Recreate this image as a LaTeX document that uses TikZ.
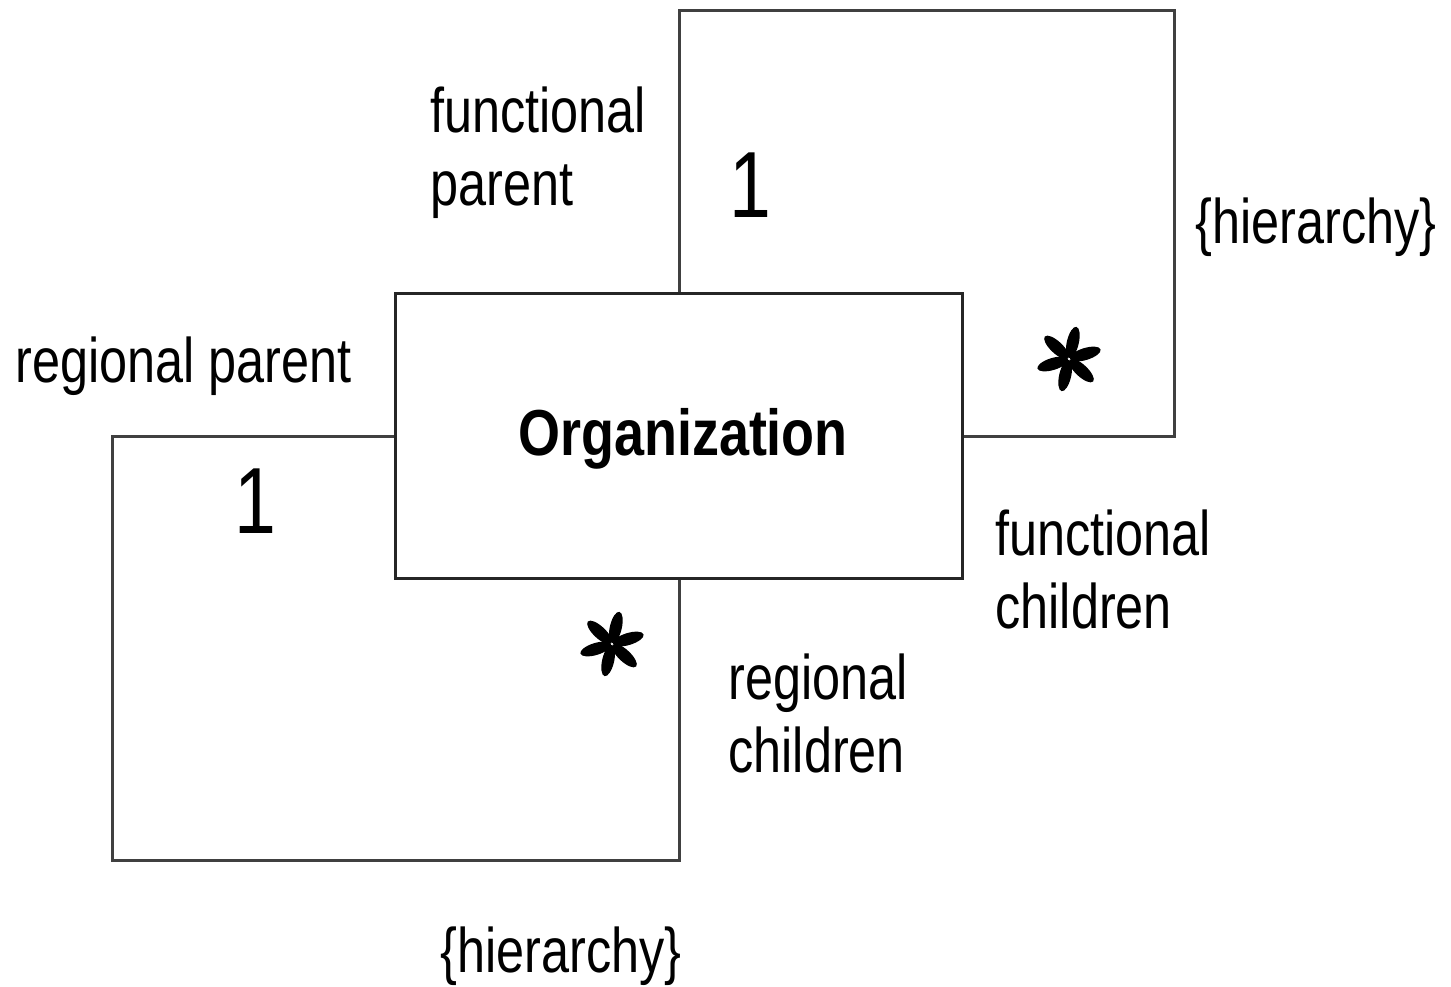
\documentclass[tikz,border=0pt]{standalone}
\usepackage{fontspec}
\setmainfont{Liberation Sans}[FakeStretch=0.8]
\newfontfamily\orgfont{Liberation Sans}[FakeStretch=0.83]
\begin{document}
\begin{tikzpicture}[x=0.5pt,y=0.5pt,
  label text/.style={inner sep=0pt,align=left,font=\fontsize{31.5}{36.5}\selectfont},
  mult/.style={inner sep=0pt,font=\fontsize{47}{50}\selectfont},
  classbox/.style={fill=white,minimum width=283pt,minimum height=142pt,inner sep=0pt},
  classborder/.style={draw=black!85,line width=1.7pt},
  assoc/.style={draw=black!75,line width=1.5pt},
  petal star/.pic={\foreach \a in {77,17,-43,-103,-163,137}
      \fill[rotate=\a] (17,0) ellipse [x radius=16, y radius=6];}]
\useasboundingbox (0,0) rectangle (1451,-986);

% the class
\node[classbox] (org) at (679,-436) {};
\node[inner sep=0pt,font=\orgfont\bfseries\fontsize{32.5}{36}\selectfont,anchor=base] (orgname) at (683,-455) {Organization};

% loop corners
\coordinate (fcorner) at (1174,-10);
\coordinate (rcorner) at (112,-860);

% functional hierarchy (upper loop)
\draw[assoc] (org.north) |- (fcorner) |- (org.east);
% regional hierarchy (lower loop)
\draw[assoc] (org.west) -| (rcorner) -| (org.south);
% class border on top of the loop ends
\draw[classborder] (org.south west) rectangle (org.north east);

% role names and constraints (anchored at the last line's baseline)
\node[label text,anchor=base west] (fparent) at (430,-205) {functional\\parent};
\node[label text,anchor=base west] (fchildren) at (995,-628) {functional\\children};
\node[label text,anchor=base west] (rparent) at (15,-382) {regional parent};
\node[label text,anchor=base west] (rchildren) at (728,-772) {regional\\children};
\node[label text,anchor=base west] (fhier) at (1195,-243) {\{hierarchy\}};
\node[label text,anchor=base west] (rhier) at (440,-972) {\{hierarchy\}};

% multiplicities
\node[mult,anchor=base] (fone) at (750,-217) {1};
\node[mult,anchor=base] (rone) at (255,-533) {1};
\pic (fmany) at (1069,-359) {petal star};
\pic (rmany) at (612,-644) {petal star};
\end{tikzpicture}
\end{document}
